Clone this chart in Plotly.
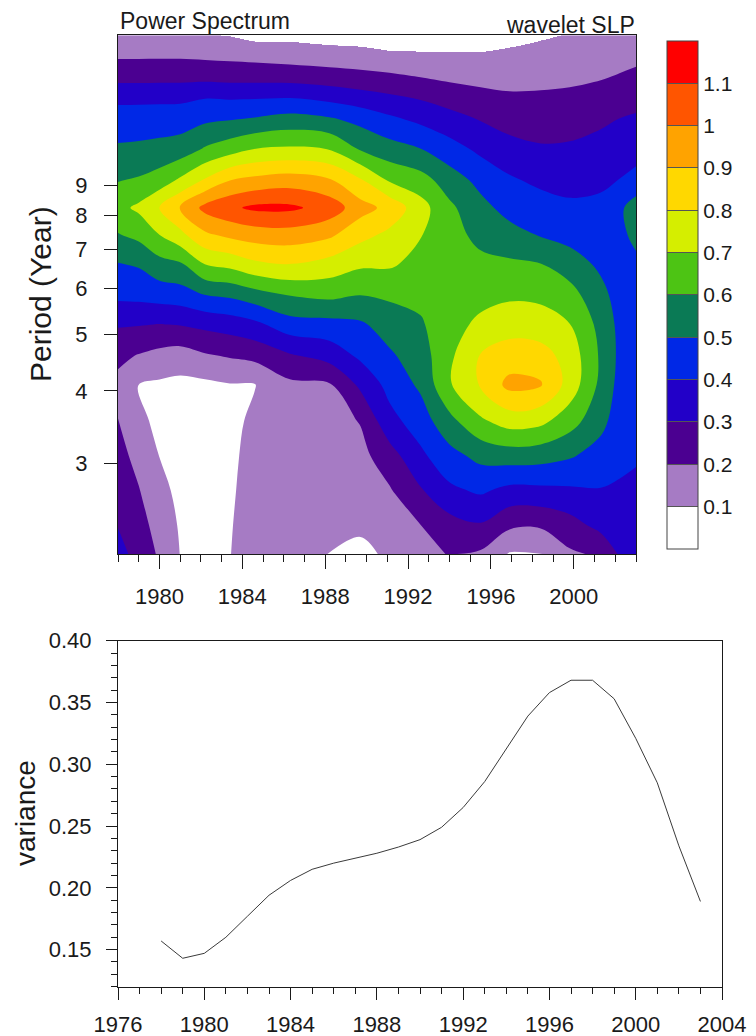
import plotly.graph_objects as go

# ---------------- data: wavelet power spectrum ----------------
grid_years = [1978.0, 1979.0, 1980.0, 1981.0, 1982.2, 1983.4, 1984.6, 1986.3, 1988.2, 1989.7,
              1991.1, 1992.6, 1994.0, 1995.5, 1996.9, 1998.4, 1999.8, 2001.3, 2002.2, 2003.0]

# periods (years), from the bottom of the panel to the top
grid_periods = [2.1, 2.35, 2.7, 3.1, 3.55, 4.1, 4.6, 5.2, 5.85, 6.6,
                7.4, 8.25, 9.2, 10.4, 11.7, 12.9, 13.9, 15.1, 16.3]

# one row per period above (bottom row first)
power = [
    [.33, .27, .185, .098, .06, .098, .14, .14, .098, .085, .11, .17, .205, .185, .092, .095, .185, .215, .31, .33],
    [.297, .24, .16, .09, .055, .095, .135, .145, .125, .11, .16, .198, .26, .29, .217, .212, .26, .33, .35, .35],
    [.265, .205, .13, .075, .05, .09, .13, .15, .14, .14, .19, .29, .38, .415, .373, .377, .385, .395, .39, .38],
    [.232, .17, .098, .065, .05, .085, .125, .15, .15, .17, .258, .38, .467, .53, .55, .541, .512, .46, .42, .41],
    [.202, .13, .07, .06, .055, .08, .115, .16, .16, .205, .367, .45, .57, .683, .745, .726, .643, .53, .45, .44],
    [.175, .095, .085, .075, .08, .095, .097, .18, .19, .32, .432, .518, .69, .81, .93, .91, .76, .575, .47, .46],
    [.222, .195, .17, .155, .19, .21, .23, .29, .34, .42, .485, .553, .68, .805, .845, .84, .76, .585, .48, .465],
    [.309, .305, .298, .305, .325, .345, .375, .457, .467, .485, .545, .588, .665, .72, .76, .744, .702, .57, .475, .46],
    [.424, .43, .445, .457, .502, .52, .56, .607, .626, .602, .617, .627, .65, .67, .682, .678, .637, .53, .46, .455],
    [.495, .51, .565, .585, .702, .73, .78, .802, .762, .717, .714, .667, .64, .62, .616, .602, .55, .48, .45, .475],
    [.593, .625, .698, .77, .88, .92, .944, .953, .917, .83, .775, .705, .63, .578, .536, .494, .465, .445, .47, .53],
    [.67, .72, .8, .902, 1.03, 1.08, 1.12, 1.12, 1.06, .94, .87, .74, .62, .53, .465, .443, .42, .421, .48, .55],
    [.595, .61, .645, .715, .81, .898, .927, .95, .91, .81, .687, .64, .55, .47, .413, .378, .364, .383, .402, .43],
    [.514, .52, .53, .545, .61, .655, .702, .715, .698, .59, .54, .502, .44, .378, .337, .311, .314, .34, .35, .363],
    [.444, .446, .45, .455, .482, .495, .51, .537, .513, .47, .42, .377, .337, .295, .258, .253, .26, .28, .302, .313],
    [.367, .367, .367, .367, .383, .375, .375, .377, .35, .324, .302, .278, .245, .222, .207, .209, .214, .23, .25, .262],
    [.257, .257, .26, .26, .26, .255, .254, .25, .238, .227, .213, .192, .175, .165, .165, .168, .177, .19, .204, .218],
    [.185, .185, .185, .185, .18, .175, .168, .155, .143, .132, .115, .112, .11, .11, .12, .13, .14, .155, .168, .175],
    [.15, .145, .135, .125, .105, .097, .07, .075, .06, .06, .05, .05, .05, .05, .07, .09, .105, .12, .13, .14],
]

levels = [0.1, 0.2, 0.3, 0.4, 0.5, 0.6, 0.7, 0.8, 0.9, 1.0, 1.1]
level_labels = ["0.1", "0.2", "0.3", "0.4", "0.5", "0.6", "0.7", "0.8", "0.9", "1", "1.1"]
band_colors = ["#FFFFFF", "#A67BC4", "#4B0091", "#2200C8", "#0028E6", "#0A7A55",
               "#4DC414", "#D5EE00", "#FFD800", "#FFA300", "#FF5500", "#FF0000"]

period_ticks = [3, 4, 5, 6, 7, 8, 9]
top_year_ticks = [1980, 1984, 1988, 1992, 1996, 2000]

# ---------------- data: variance time series ----------------
years = [1978, 1979, 1980, 1981, 1982, 1983, 1984, 1985, 1986, 1987, 1988, 1989, 1990,
         1991, 1992, 1993, 1994, 1995, 1996, 1997, 1998, 1999, 2000, 2001, 2002, 2003]
variance = [0.157, 0.143, 0.147, 0.160, 0.177, 0.194, 0.206, 0.215, 0.220, 0.224, 0.228, 0.233, 0.239,
            0.249, 0.265, 0.286, 0.312, 0.339, 0.358, 0.368, 0.368, 0.353, 0.321, 0.285, 0.234, 0.189]
bottom_year_ticks = [1976, 1980, 1984, 1988, 1992, 1996, 2000, 2004]
variance_ticks = [0.15, 0.20, 0.25, 0.30, 0.35, 0.40]

# ---------------- figure ----------------
W, H = 756, 1036
FONT = "Liberation Sans, Arial, Helvetica, sans-serif"
INK = "#1a1a1a"
X_RANGE = [1978, 2003]
Y_RANGE_LOG = [0.3222, 1.2127]

n = len(band_colors)
# contour fill colours: band k is sampled at k/(n-1)
fill_scale = [[i / (n - 1), c] for i, c in enumerate(band_colors)]
# stepped scale for the label bar: n equal boxes from 0.0 to 1.2
step_scale = []
for i, c in enumerate(band_colors):
    step_scale.append([i / n, c])
    step_scale.append([(i + 1) / n, c])
# scale that paints only the lowest band (< 0.1) and leaves the rest transparent
low_only_scale = [[0.0, band_colors[0]], [1 / n, band_colors[0]],
                  [1 / n, "rgba(255,255,255,0)"], [1.0, "rgba(255,255,255,0)"]]

fig = go.Figure()

fig.add_trace(go.Contour(
    x=grid_years, y=grid_periods, z=power,
    xaxis="x", yaxis="y",
    autocontour=False,
    contours=dict(start=levels[0], end=levels[-1], size=0.1, coloring="fill", showlines=False),
    line=dict(width=0, smoothing=1.0),
    colorscale=fill_scale,
    showscale=False,
    hoverinfo="skip",
))

# lowest band along the top edge of the spectrum (same data, top three period rows),
# drawn on an overlaid copy of the axes so that it sits above the filled contours
fig.add_trace(go.Heatmap(
    x=grid_years, y=grid_periods[-3:], z=power[-3:],
    xaxis="x3", yaxis="y3",
    zsmooth="best", zmin=0.0, zmax=1.2,
    colorscale=low_only_scale, showscale=False,
    hoverinfo="skip",
))

# colour bar (n equal boxes, separated and labelled at the contour levels)
fig.add_trace(go.Scatter(
    x=[None], y=[None], xaxis="x", yaxis="y", mode="markers",
    marker=dict(color=[0.5], cmin=0.0, cmax=1.2, colorscale=step_scale, showscale=True,
                colorbar=dict(
                    x=667 / W, xanchor="left", xpad=0,
                    y=1 - 294.9 / H, yanchor="middle", ypad=0,
                    len=508, lenmode="pixels",
                    thickness=31, thicknessmode="pixels",
                    outlinewidth=1, outlinecolor="#444",
                    tickmode="array", tickvals=levels, ticktext=level_labels,
                    ticks="inside", ticklen=31, tickwidth=1, tickcolor="#555",
                    tickfont=dict(size=21, color=INK, family=FONT),
                )),
    hoverinfo="skip", showlegend=False,
))

fig.add_trace(go.Scatter(
    x=years, y=variance, xaxis="x2", yaxis="y2",
    mode="lines", line=dict(color="#3a3a3a", width=1),
    hoverinfo="skip", showlegend=False,
))

axis_common = dict(showgrid=False, zeroline=False, showline=True, linecolor=INK, linewidth=1,
                   mirror=True, ticks="outside", tickcolor=INK, tickwidth=1, automargin=False,
                   tickfont=dict(size=22, color=INK, family=FONT))

fig.update_layout(
    width=W, height=H,
    margin=dict(l=0, r=0, t=0, b=0, autoexpand=False),
    paper_bgcolor="white", plot_bgcolor="white",
    font=dict(family=FONT, color=INK),
    showlegend=False,
    xaxis=dict(domain=[118 / W, 636 / W], anchor="y", range=X_RANGE,
               tickmode="array", tickvals=top_year_ticks, ticklen=14,
               minor=dict(ticks="outside", ticklen=7, tick0=1978, dtick=1, tickcolor=INK, showgrid=False),
               ticklabelstandoff=9, **axis_common),
    yaxis=dict(domain=[1 - 554 / H, 1 - 35 / H], anchor="x", type="log",
               range=Y_RANGE_LOG, tickmode="array", tickvals=period_ticks,
               ticktext=[str(p) for p in period_ticks], ticklen=13,
               ticklabelstandoff=12, **axis_common),
    xaxis3=dict(overlaying="x", anchor="y3", range=X_RANGE, visible=False,
                showgrid=False, zeroline=False),
    yaxis3=dict(overlaying="y", anchor="x3", type="log", range=Y_RANGE_LOG, visible=False,
                showgrid=False, zeroline=False),
    xaxis2=dict(domain=[118 / W, 722 / W], anchor="y2", range=[1976, 2004],
                tickmode="array", tickvals=bottom_year_ticks, ticklen=12,
                minor=dict(ticks="outside", ticklen=6, tick0=1976, dtick=1, tickcolor=INK, showgrid=False),
                ticklabelstandoff=6, **axis_common),
    yaxis2=dict(domain=[1 - 986.7 / H, 1 - 640.7 / H], anchor="x2", range=[0.12, 0.40],
                tickmode="array", tickvals=variance_ticks,
                ticktext=[f"{v:.2f}" for v in variance_ticks], ticklen=11,
                minor=dict(ticks="outside", ticklen=6, tick0=0.12, dtick=0.01, tickcolor=INK, showgrid=False),
                ticklabelstandoff=10, **axis_common),
    annotations=[
        dict(text="Power Spectrum", xref="paper", yref="paper", x=118 / W, y=1 - 21 / H,
             xanchor="left", yanchor="middle", showarrow=False, font=dict(size=23, family=FONT, color=INK)),
        dict(text="wavelet SLP", xref="paper", yref="paper", x=637 / W, y=1 - 25.5 / H,
             xanchor="right", yanchor="middle", showarrow=False, font=dict(size=23, family=FONT, color=INK)),
        dict(text="Period (Year)", xref="paper", yref="paper", x=40 / W, y=1 - 294 / H,
             xanchor="center", yanchor="middle", textangle=-90, showarrow=False,
             font=dict(size=30, family=FONT, color=INK)),
        dict(text="variance", xref="paper", yref="paper", x=25 / W, y=1 - 813 / H,
             xanchor="center", yanchor="middle", textangle=-90, showarrow=False,
             font=dict(size=28, family=FONT, color=INK)),
    ],
)

fig.write_html("out.html")
